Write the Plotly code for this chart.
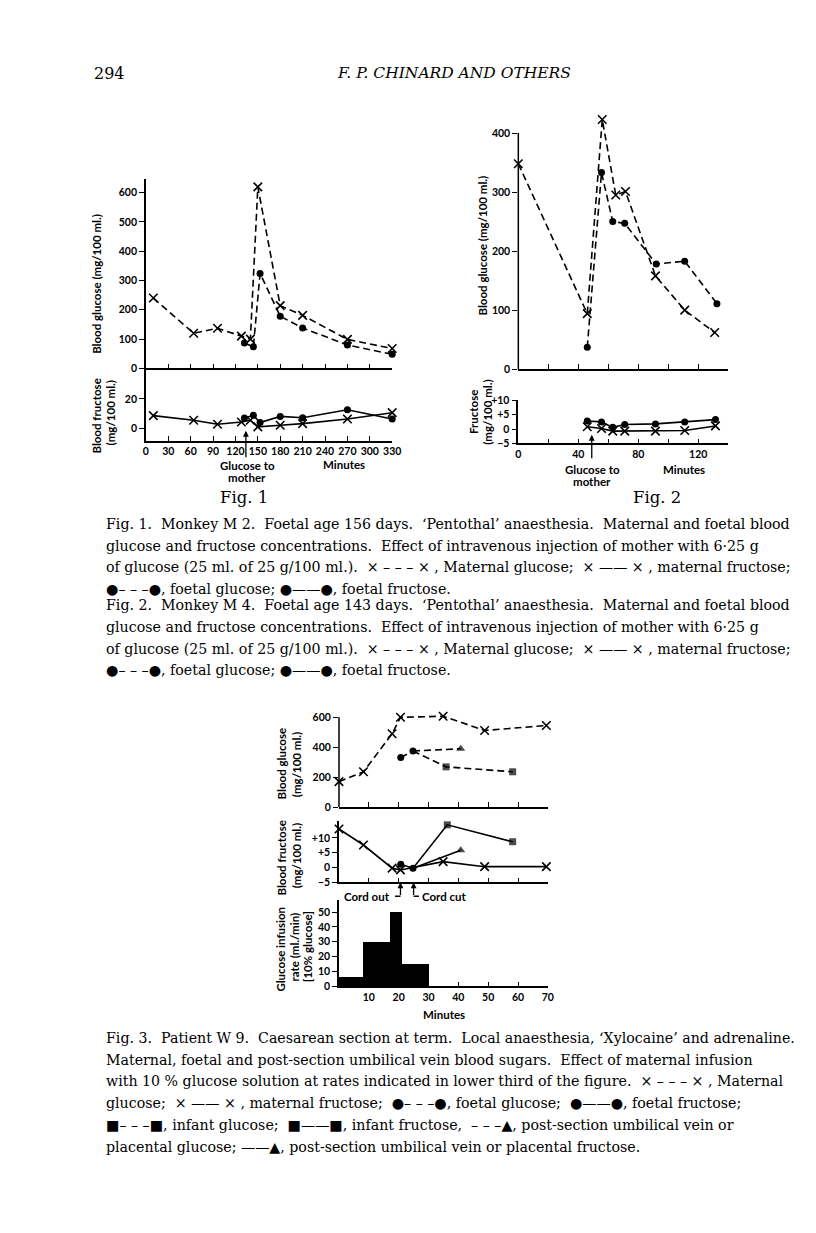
import plotly.graph_objects as go

W, H = 816, 1233

# ---------------- DATA ----------------
# Fig. 1 (Monkey M2) - minutes
f1_mat_t = [10, 64, 96, 128, 140, 150, 180, 210, 270, 330]
f1_mat_glucose = [240, 120, 137, 110, 100, 619, 214, 181, 99, 68]
f1_mat_fructose = [8.7, 5.6, 2.9, 4.4, 5.6, 1.1, 2.2, 3.3, 6.4, 10.7]
f1_foe_t = [132, 144, 153, 180, 210, 270, 330]
f1_foe_glucose = [87, 74, 324, 178, 138, 80, 48]
f1_foe_fructose = [7.1, 8.9, 4.0, 8.2, 7.3, 12.7, 6.4]
f1_injection_t = 134

# Fig. 2 (Monkey M4)
f2_mat_t = [0, 46, 56, 65, 71.5, 91.5, 111, 131]
f2_mat_glucose = [348, 94, 423, 295, 301, 158, 100, 62]
f2_foe_t = [46, 55.5, 63, 71, 92, 111, 132.5]
f2_foe_glucose = [37, 333, 250, 247, 178, 183, 111]
f2_fru_t = [46, 55.5, 63, 71, 91.5, 111, 131.5]
f2_mat_fructose = [0.8, 0.2, -0.7, -0.7, -0.7, -0.5, 1.1]
f2_foe_fructose = [2.8, 2.5, 0.6, 1.6, 1.8, 2.5, 3.3]
f2_injection_t = 49

# Fig. 3 (Patient W9)
f3_mat_t = [0, 8.2, 17.8, 20.6, 34.9, 48.8, 69.5]
f3_mat_glucose = [170, 236, 490, 600, 607, 512, 545]
f3_mat_fructose = [13.0, 7.6, -0.2, -0.8, 2.0, 0.3, 0.3]
f3_foe_t = [20.7, 24.8]
f3_foe_glucose = [331, 375]
f3_foe_fructose = [1.1, -0.2]
f3_inf_t = [35.9, 58.2]
f3_inf_glucose = [269, 236]
f3_inf_fructose_t = [36.3, 58.2]
f3_inf_fructose = [14.4, 8.7]
f3_plac_t = [40.8]
f3_plac_glucose = [390]
f3_plac_fructose = [5.8]
cord_out_t = 20.6
cord_cut_t = 25.0
infusion_start = [0, 8, 17, 21]
infusion_end = [8, 17, 21, 30]
infusion_rate = [6, 30, 50, 15]

# ---------------- LAYOUT HELPERS ----------------
def fx(p):
    return p / W

def fy(p):
    return 1 - p / H

TICKFONT = dict(family="Lato", size=10.5, color="black", weight="bold")
LABFONT = dict(family="Lato", size=11.5, color="black", weight="bold")
SMALLFONT = dict(family="Lato", size=11.5, color="black", weight="bold")
SERIF = "DejaVu Serif"

# axis id: (x pixel domain, x range, y pixel domain (top,bottom), y range, axis-line top value)
axes = {
    1: ((145, 395), [0, 330], (175, 366), [0, 645], None),
    2: ((145, 395), [0, 330], (366, 439.3), [-8.4, 40.5], None),
    3: ((523, 736), [0, 140], (104.5, 366.7), [0, 440], 400),
    4: ((523, 736), [0, 140], (398.3, 441.7), [-5, 10], None),
    5: ((341, 553), [0, 70], (714.5, 809), [0, 625], 600),
    6: ((341, 553), [0, 70], (823, 885), [-5, 15.7], None),
    7: ((341, 553), [0, 70], (903, 990), [0, 58], None),
}

xticks = {
    1: (list(range(30, 331, 30)), None),
    2: (list(range(0, 331, 30)), [str(v) for v in range(0, 331, 30)]),
    3: (list(range(20, 141, 20)), None),
    4: (list(range(0, 141, 20)), ["0", "", "40", "", "80", "", "120", ""]),
    5: (list(range(10, 71, 10)), None),
    6: (list(range(10, 71, 10)), None),
    7: (list(range(10, 71, 10)), [str(v) for v in range(10, 71, 10)]),
}
yticks = {
    1: ([0, 100, 200, 300, 400, 500, 600], None),
    2: ([0, 20], None),
    3: ([0, 100, 200, 300, 400], None),
    4: ([-5, 0, 5, 10], ["\u22125", "0", "+5", "+10"]),
    5: ([0, 200, 400, 600], None),
    6: ([-5, 0, 5, 10], ["\u22125", "0", "+5", "+10"]),
    7: ([0, 10, 20, 30, 40, 50], None),
}

layout = dict(
    width=W, height=H, margin=dict(l=0, r=0, t=0, b=0),
    paper_bgcolor="white", plot_bgcolor="rgba(0,0,0,0)",
    showlegend=False, bargap=0,
)

shapes = []
for i, (xd, xr, yd, yr, ytop) in axes.items():
    xs = "" if i == 1 else str(i)
    xv, xt = xticks[i]
    yv, yt = yticks[i]
    xa = dict(domain=[fx(xd[0]), fx(xd[1])], range=xr, anchor="y" + xs,
              showline=True, linecolor="black", linewidth=1.5,
              ticks="inside", ticklen=5, tickwidth=1.4, tickcolor="black",
              tickvals=xv, showgrid=False, zeroline=False,
              tickfont=TICKFONT, fixedrange=True)
    if xt is None:
        xa["showticklabels"] = False
    else:
        xa["ticktext"] = xt
    ya = dict(domain=[fy(yd[1]), fy(yd[0])], range=yr, anchor="x" + xs,
              showline=ytop is None, linecolor="black", linewidth=1.5,
              ticks="outside", ticklen=5, tickwidth=1.4, tickcolor="black",
              tickvals=yv, showgrid=False, zeroline=False,
              tickfont=TICKFONT, fixedrange=True)
    if yt is not None:
        ya["ticktext"] = yt
    if ytop is not None:
        shapes.append(dict(type="line", xref="x%s domain" % xs, yref="y" + xs,
                           x0=0, x1=0, y0=yr[0], y1=ytop,
                           line=dict(color="black", width=1.5)))
    layout["xaxis" + xs] = xa
    layout["yaxis" + xs] = ya

fig = go.Figure()

DASH = "7px,4px"

def add(x, y, ax, dashed, symbol, sizes=None, size=7):
    xs = "" if ax == 1 else str(ax)
    if symbol == "x":
        marker = dict(symbol="x-thin", size=8.5, color="black",
                      line=dict(width=1.6, color="black"))
    else:
        marker = dict(symbol=symbol, size=size, color="black",
                      line=dict(width=0))
    if sizes is not None:
        marker["size"] = sizes
    fig.add_trace(go.Scatter(
        x=x, y=y, mode="lines+markers", xaxis="x" + xs, yaxis="y" + xs,
        line=dict(color="black", width=1.6, dash=DASH if dashed else "solid"),
        marker=marker, cliponaxis=False, hoverinfo="skip"))

# Fig 1
add(f1_mat_t, f1_mat_glucose, 1, True, "x")
add(f1_foe_t, f1_foe_glucose, 1, True, "circle")
add(f1_mat_t, f1_mat_fructose, 2, False, "x")
add(f1_foe_t, f1_foe_fructose, 2, False, "circle")
# Fig 2
add(f2_mat_t, f2_mat_glucose, 3, True, "x")
add(f2_foe_t, f2_foe_glucose, 3, True, "circle")
add(f2_fru_t, f2_mat_fructose, 4, False, "x")
add(f2_fru_t, f2_foe_fructose, 4, False, "circle")
# Fig 3 glucose
add(f3_mat_t, f3_mat_glucose, 5, True, "x")
add(f3_foe_t, f3_foe_glucose, 5, True, "circle")
add([f3_foe_t[-1]] + f3_inf_t, [f3_foe_glucose[-1]] + f3_inf_glucose, 5, True,
    "square", sizes=[0] + [7] * len(f3_inf_t))
add([f3_foe_t[-1]] + f3_plac_t, [f3_foe_glucose[-1]] + f3_plac_glucose, 5, True,
    "triangle-up", sizes=[0] + [8] * len(f3_plac_t))
# Fig 3 fructose
add(f3_mat_t, f3_mat_fructose, 6, False, "x")
add(f3_foe_t, f3_foe_fructose, 6, False, "circle")
add([f3_foe_t[-1]] + f3_inf_fructose_t, [f3_foe_fructose[-1]] + f3_inf_fructose, 6, False,
    "square", sizes=[0] + [7] * len(f3_inf_fructose_t))
add([f3_foe_t[-1]] + f3_plac_t, [f3_foe_fructose[-1]] + f3_plac_fructose, 6, False,
    "triangle-up", sizes=[0] + [8] * len(f3_plac_t))
# Fig 3 infusion
fig.add_trace(go.Bar(
    x=[(s + e) / 2 for s, e in zip(infusion_start, infusion_end)],
    y=infusion_rate,
    width=[e - s for s, e in zip(infusion_start, infusion_end)],
    marker=dict(color="black", line=dict(width=0)),
    xaxis="x7", yaxis="y7", hoverinfo="skip"))

ann = []

def text(x, y, s, font=LABFONT, xanchor="center", yanchor="middle", angle=0):
    ann.append(dict(xref="paper", yref="paper", x=fx(x), y=fy(y), text=s,
                    showarrow=False, font=font, xanchor=xanchor, yanchor=yanchor,
                    textangle=angle))

def vlabel(x, y, s):
    text(x, y, s, angle=-90)

# header
text(90, 68, "294", font=dict(family=SERIF, size=16, color="black"), xanchor="left")
text(458, 68, "<i>F. P. CHINARD AND OTHERS</i>",
     font=dict(family=SERIF, size=15.5, color="black"))

# y titles
vlabel(95, 281, "Blood glucose (mg/100 ml.)")
vlabel(95, 414, "Blood fructose")
vlabel(110, 411, "(mg/100 ml.)")
vlabel(487, 242, "Blood glucose (mg/100 ml.)")
vlabel(477, 410, "Fructose")
vlabel(491, 410, "(mg/100 ml.)")
vlabel(283, 765, "Blood glucose")
vlabel(298, 766, "(mg/100 ml.)")
vlabel(283, 860, "Blood fructose")
vlabel(298, 858, "(mg/100 ml.)")
vlabel(282, 952, "Glucose infusion")
vlabel(296, 950, "rate (ml./min)")
vlabel(309, 950, "[10% glucose]")

# other labels
text(248, 464, "Glucose to", font=SMALLFONT)
text(248, 476, "mother", font=SMALLFONT)
text(346, 463, "Minutes", font=SMALLFONT)
text(598, 468, "Glucose to", font=SMALLFONT)
text(598, 480, "mother", font=SMALLFONT)
text(691, 468, "Minutes", font=SMALLFONT)
text(448, 1018, "Minutes", font=SMALLFONT)
text(395, 899, "Cord out", font=SMALLFONT, xanchor="right")
text(423, 899, "Cord cut", font=SMALLFONT, xanchor="left")
text(245, 496, "Fig. 1", font=dict(family=SERIF, size=16.5, color="black"))
text(664, 496, "Fig. 2", font=dict(family=SERIF, size=16.5, color="black"))

# arrows
def arrow(axn, t, y, tail_px):
    xs = "" if axn == 1 else str(axn)
    ann.append(dict(xref="x" + xs, yref="y" + xs, x=t, y=y, ax=0, ay=tail_px,
                    text="", showarrow=True, arrowhead=2, arrowsize=0.9,
                    arrowwidth=1.3, arrowcolor="black"))

arrow(2, f1_injection_t, -1.5, 28)
arrow(4, f2_injection_t, -2.0, 25)
arrow(6, cord_out_t, -5, 14)
arrow(6, cord_cut_t, -5, 14)
shapes.append(dict(type="line", xref="x6", yref="paper", x0=cord_out_t - 1.8, x1=cord_out_t,
                   y0=fy(899), y1=fy(899), line=dict(color="black", width=1.3)))
shapes.append(dict(type="line", xref="x6", yref="paper", x0=cord_cut_t, x1=cord_cut_t + 1.8,
                   y0=fy(899), y1=fy(899), line=dict(color="black", width=1.3)))

# captions
CAP = dict(family=SERIF, size=14.2, color="black")
cap1 = [
    "Fig. 1.  Monkey M 2.  Foetal age 156 days.  \u2018Pentothal\u2019 anaesthesia.  Maternal and foetal blood",
    "glucose and fructose concentrations.  Effect of intravenous injection of mother with 6\u00b725 g",
    "of glucose (25 ml. of 25 g/100 ml.).  \u00d7 \u2013 \u2013 \u2013 \u00d7 , Maternal glucose;  \u00d7 \u2014\u2014 \u00d7 , maternal fructose;",
    "\u25cf\u2013 \u2013 \u2013\u25cf, foetal glucose; \u25cf\u2014\u2014\u25cf, foetal fructose.",
]
cap2 = [
    "Fig. 2.  Monkey M 4.  Foetal age 143 days.  \u2018Pentothal\u2019 anaesthesia.  Maternal and foetal blood",
    "glucose and fructose concentrations.  Effect of intravenous injection of mother with 6\u00b725 g",
    "of glucose (25 ml. of 25 g/100 ml.).  \u00d7 \u2013 \u2013 \u2013 \u00d7 , Maternal glucose;  \u00d7 \u2014\u2014 \u00d7 , maternal fructose;",
    "\u25cf\u2013 \u2013 \u2013\u25cf, foetal glucose; \u25cf\u2014\u2014\u25cf, foetal fructose.",
]
cap3 = [
    "Fig. 3.  Patient W 9.  Caesarean section at term.  Local anaesthesia, \u2018Xylocaine\u2019 and adrenaline.",
    "Maternal, foetal and post-section umbilical vein blood sugars.  Effect of maternal infusion",
    "with 10 % glucose solution at rates indicated in lower third of the figure.  \u00d7 \u2013 \u2013 \u2013 \u00d7 , Maternal",
    "glucose;  \u00d7 \u2014\u2014 \u00d7 , maternal fructose;  \u25cf\u2013 \u2013 \u2013\u25cf, foetal glucose;  \u25cf\u2014\u2014\u25cf, foetal fructose;",
    "\u25a0\u2013 \u2013 \u2013\u25a0, infant glucose;  \u25a0\u2014\u2014\u25a0, infant fructose,  \u2013 \u2013 \u2013\u25b2, post-section umbilical vein or",
    "placental glucose; \u2014\u2014\u25b2, post-section umbilical vein or placental fructose.",
]
for lines, y0, step in ((cap1, 523, 22), (cap2, 605, 22), (cap3, 1042, 22)):
    for k, s in enumerate(lines):
        text(103, y0 + step * k, s, font=CAP, xanchor="left")

layout["annotations"] = ann
layout["shapes"] = shapes
fig.update_layout(**layout)
fig.write_html("out.html", config={"displayModeBar": False},
               post_script="document.body.style.margin='0';document.body.style.overflow='hidden';")
